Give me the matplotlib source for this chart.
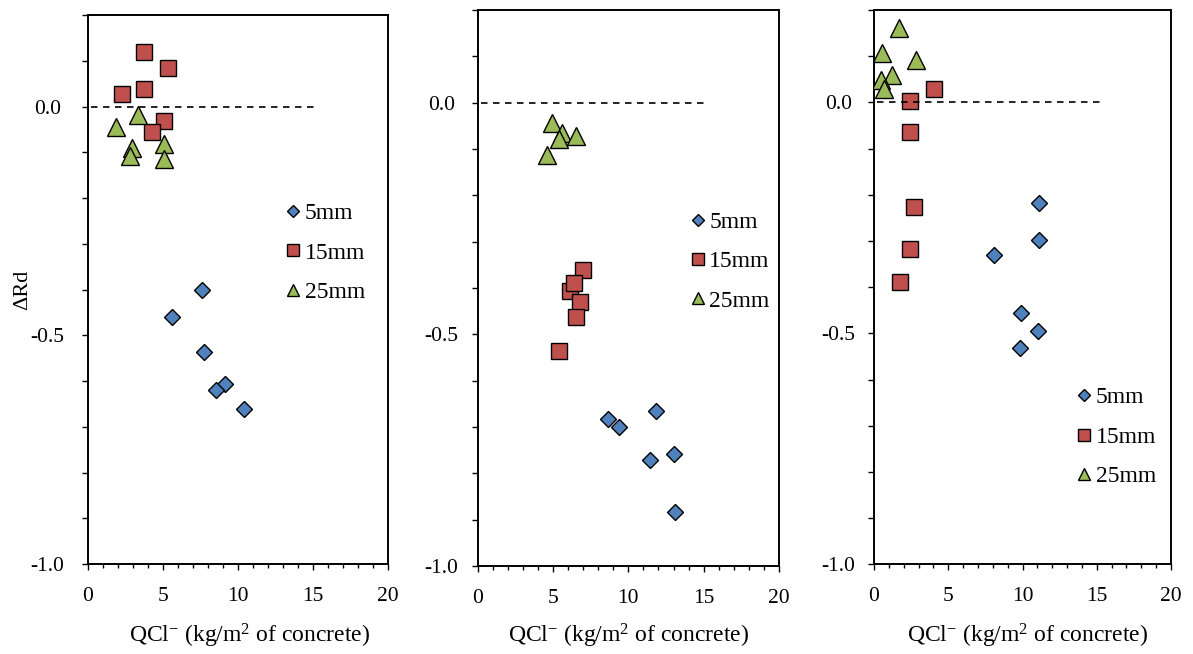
import matplotlib
matplotlib.use("Agg")
import matplotlib.pyplot as plt
from matplotlib.ticker import MultipleLocator, FuncFormatter

plt.rcParams['font.family'] = ['Liberation Serif', 'DejaVu Serif']
plt.rcParams['mathtext.fontset'] = 'custom'
plt.rcParams['mathtext.rm'] = 'Liberation Serif'
plt.rcParams['mathtext.default'] = 'regular'

# ---------------- data ----------------
series_labels = ["5mm", "15mm", "25mm"]

# Panel 1
p1_5mm_x = [7.58, 5.58, 7.73, 9.13, 8.51, 10.4]
p1_5mm_y = [-0.402, -0.461, -0.536, -0.607, -0.620, -0.662]
p1_15mm_x = [3.76, 5.31, 3.76, 2.24, 5.09, 4.24]
p1_15mm_y = [0.119, 0.085, 0.038, 0.027, -0.031, -0.055]
p1_25mm_x = [1.85, 3.31, 2.93, 2.82, 5.09, 5.09]
p1_25mm_y = [-0.044, -0.018, -0.091, -0.109, -0.082, -0.115]

# Panel 2
p2_5mm_x = [11.81, 8.67, 9.38, 13.03, 11.41, 13.09]
p2_5mm_y = [-0.665, -0.682, -0.700, -0.758, -0.772, -0.883]
p2_15mm_x = [6.99, 6.12, 6.41, 6.81, 6.50, 5.39]
p2_15mm_y = [-0.362, -0.407, -0.390, -0.430, -0.462, -0.537]
p2_25mm_x = [4.91, 5.57, 6.50, 5.37, 4.60]
p2_25mm_y = [-0.043, -0.065, -0.071, -0.079, -0.114]

# Panel 3
p3_5mm_x = [11.13, 11.13, 8.08, 9.88, 11.02, 9.83]
p3_5mm_y = [-0.218, -0.297, -0.330, -0.456, -0.496, -0.532]
p3_15mm_x = [4.06, 2.45, 2.45, 2.69, 2.42, 1.73]
p3_15mm_y = [0.030, 0.004, -0.065, -0.227, -0.318, -0.389]
p3_25mm_x = [1.68, 0.52, 2.85, 1.19, 0.47, 0.70]
p3_25mm_y = [0.162, 0.106, 0.092, 0.060, 0.049, 0.030]

ref_x = [0.2, 15.3]
ref_y = [0.0, 0.0]

xlabel_text = "QCl$^{-}$ (kg/m$^{2}$ of concrete)"
ylabel_text = "\u0394Rd"

panels = [
    (p1_5mm_x, p1_5mm_y, p1_15mm_x, p1_15mm_y, p1_25mm_x, p1_25mm_y),
    (p2_5mm_x, p2_5mm_y, p2_15mm_x, p2_15mm_y, p2_25mm_x, p2_25mm_y),
    (p3_5mm_x, p3_5mm_y, p3_15mm_x, p3_15mm_y, p3_25mm_x, p3_25mm_y),
]

# ---------------- layout / style ----------------
W, H = 1193, 654
fig = plt.figure(figsize=(W / 100, H / 100), dpi=100)

axes_px = [  # left, right, top, bottom in pixels
    (88, 388, 15, 564),
    (477.7, 779, 10, 566),
    (874, 1171, 10, 564.3),
]
ylab_pad = [24.8, 21.7, 21.2]
legend_handle_center = [(293, 253), (697.5, 261.5), (1083.7, 437)]
xlabel_center_x = [250, 628.5, 1028]

colors = ["#4F81BD", "#C0504D", "#9BBB59"]
markers = ["D", "s", "^"]
msizes = [8.4, 12.2, 13.0]
legend_msizes = [6.0, 8.6, 9.0]

tick_fs = 15.5
legend_fs = 17

for i, (left, right, top, bottom) in enumerate(axes_px):
    ax = fig.add_axes([left / W, 1 - bottom / H, (right - left) / W, (bottom - top) / H])
    data = panels[i]
    for k in range(3):
        ax.plot(data[2 * k], data[2 * k + 1], linestyle="none", marker=markers[k],
                markersize=msizes[k], markerfacecolor=colors[k], markeredgecolor="black",
                markeredgewidth=1.0, label=series_labels[k], zorder=3)
    ax.plot(ref_x, ref_y, color="black", lw=1.2, dashes=(3.9, 3.3), zorder=4)

    ax.set_xlim(0, 20)
    ax.set_ylim(-1.0, 0.2)
    ax.xaxis.set_major_locator(MultipleLocator(5))
    ax.xaxis.set_minor_locator(MultipleLocator(1))
    ax.yaxis.set_major_locator(MultipleLocator(0.5))
    ax.yaxis.set_minor_locator(MultipleLocator(0.1))
    ax.xaxis.set_major_formatter(FuncFormatter(lambda v, p: f"{v:.0f}"))
    ax.yaxis.set_major_formatter(FuncFormatter(
        lambda v, p: f"{v:.1f}".replace("\u2212", "-") if v <= 0.001 else ""))

    ax.tick_params(axis="x", which="major", direction="out", length=4.3, width=1.0,
                   labelsize=tick_fs, pad=12)
    ax.tick_params(axis="x", which="minor", direction="out", length=2.9, width=1.0)
    ax.tick_params(axis="y", which="both", direction="out", length=4.3, width=1.0,
                   labelsize=tick_fs, pad=ylab_pad[i])
    for lab in ax.get_yticklabels():
        lab.set_horizontalalignment("center")

    for s in ax.spines.values():
        s.set_linewidth(1.4)
        s.set_color("black")

    hx, hy = legend_handle_center[i]
    hl = 0.5
    leg = ax.legend(loc="center left",
                    bbox_to_anchor=((hx - hl * legend_fs * 100 / 72 / 2) / W, 1 - hy / H),
                    bbox_transform=fig.transFigure, frameon=False, fontsize=legend_fs,
                    handlelength=hl, handletextpad=0.25,
                    labelspacing=0.76, borderpad=0, borderaxespad=0, numpoints=1)
    for h, ms in zip(leg.legend_handles, legend_msizes):
        h.set_markersize(ms)

    fig.text(xlabel_center_x[i] / W, 11 / H, xlabel_text, ha="center", va="baseline",
             fontsize=17)

fig.text(23 / W, 1 - 290 / H, ylabel_text, rotation=90, ha="center", va="center",
         fontsize=16)

fig.savefig("out.png", dpi=100)
